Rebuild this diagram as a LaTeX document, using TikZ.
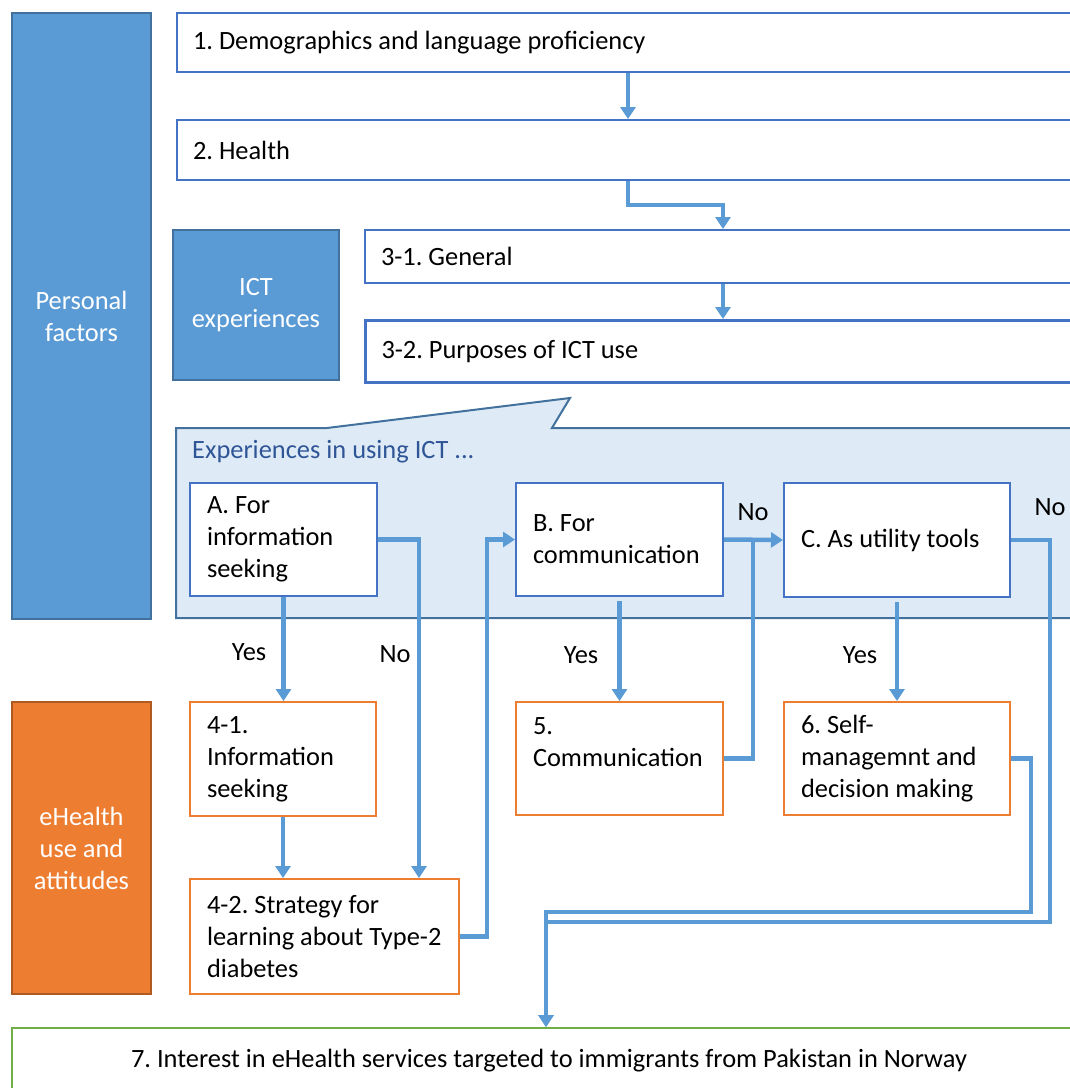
\documentclass[tikz,border=0pt]{standalone}
\usepackage{fontspec}
\setmainfont{Carlito}
\usetikzlibrary{arrows.meta}
\definecolor{boxblue}{HTML}{4472C4}
\definecolor{arrblue}{HTML}{5B9BD5}
\definecolor{sideblue}{HTML}{5B9BD5}
\definecolor{sideline}{HTML}{41719C}
\definecolor{callfill}{HTML}{DEEBF7}
\definecolor{calltext}{HTML}{2F5597}
\definecolor{orng}{HTML}{ED7D31}
\definecolor{orngline}{HTML}{AE5A21}
\definecolor{grn}{HTML}{70AD47}
\frenchspacing
\tikzset{
every node/.style={font=\fontsize{26.4}{32}\selectfont},
topbox/.style={draw=boxblue, line width=2pt, fill=white, anchor=north west, align=flush left, inner xsep=16pt, inner ysep=0pt, text width=872pt, minimum height=#1},
optbox/.style={draw=boxblue, line width=2pt, fill=white, anchor=north west, align=flush left, inner xsep=17pt, inner ysep=0pt},
usebox/.style={optbox, draw=orng},
side/.style={fill=sideblue, draw=sideline, line width=2pt, text=white, align=flush center, anchor=north west, inner sep=0pt},
arr/.style={arrblue, line width=4.5pt, -{Triangle[width=15pt,length=12pt]}},
lnk/.style={arrblue, line width=4.5pt}
}
\begin{document}
\begin{tikzpicture}[x=1pt,y=-1pt]
\useasboundingbox (0,0) rectangle (1070,1088);
\clip (0,0) rectangle (1070,1088);
\node[side, minimum width=139pt, minimum height=606pt] (pf) at (11,12) {Personal\\factors};
\node[side, fill=orng, draw=orngline, minimum width=139pt, minimum height=292pt] (eh) at (11,701) {eHealth\\use and\\attitudes};
\node[topbox=59pt] (q1) at (176,12) {1. Demographics and language proficiency};
\node[topbox=60pt] (q2) at (176,119) {2. Health};
\node[side, minimum width=166pt, minimum height=150pt] (ict) at (172,229) {ICT\\experiences};
\node[topbox=53pt, text width=684pt] (q31) at (364,229) {3-1. General};
\node[topbox=62pt, text width=684pt, line width=3pt] (q32) at (364,319) {3-2. Purposes of ICT use};
\fill[callfill, draw=sideline, line width=2pt] (176,428) -- (327,428) -- (570,398) -- (552,428) -- (1085,428) -- (1085,618) -- (176,618) -- cycle;
\node[anchor=west, text=calltext, inner sep=0pt] (exp) at (192,452) {Experiences in using ICT ...};
\node[optbox, text width=153pt, minimum height=113pt] (A) at (189,482) {A. For\\information\\seeking};
\node[optbox, text width=173pt, minimum height=113pt] (B) at (515,482) {B. For\\communication};
\node[optbox, text width=192pt, minimum height=114pt] (C) at (783,482) {C. As utility tools};
\node[usebox, text width=152pt, minimum height=114pt] (n41) at (189,701) {4-1.\\Information\\seeking};
\node[usebox, text width=235pt, minimum height=115pt] (n42) at (189,878) {4-2. Strategy for\\\mbox{learning about Type-2}\\diabetes};
\node[usebox, text width=173pt, minimum height=113pt] (n5) at (515,701) {5.\\Communication\\\mbox{}};
\node[usebox, text width=192pt, minimum height=113pt] (n6) at (783,701) {6. Self-\\managemnt and\\decision making};
\node[draw=grn, line width=2pt, fill=white, anchor=north west, inner sep=0pt, text width=1074pt, minimum height=66pt, align=flush center] (n7) at (11,1027) {7. Interest in eHealth services targeted to immigrants from Pakistan in Norway};
\coordinate (c1) at (628,0);
\coordinate (c2) at (723,205);
\coordinate (c3) at (419,0);
\coordinate (c4) at (487,0);
\coordinate (c5) at (753,0);
\coordinate (c6) at (1050,922);
\coordinate (c7) at (1031,912);
\coordinate (c8) at (546,0);
\draw[arr] (c1 |- q1.south) -- (c1 |- q2.north);
\draw[arr] (c1 |- q2.south) |- (c2) -- (c2 |- q31.north);
\draw[arr] (c2 |- q31.south) -- (c2 |- q32.north);
\draw[arr] (A.south) -- (A.south |- n41.north);
\draw[arr] (A.east) -| (c3 |- n42.north);
\draw[arr] (n41.south) -- (n41.south |- n42.north);
\draw[arr] (n42.east) -| (c4 |- B.west) -- (B.west);
\draw[arr, shorten <=4pt] (B.south) -- (n5.north);
\draw[arr] (B.east) -- (C.west);
\draw[lnk] (n5.east) -| (c5 |- C.west);
\draw[arr, shorten <=4pt] (C.south) -- (n6.north);
\draw[arr] (C.east) -| (c6) -| (c8 |- n7.north);
\draw[arr] (n6.east) -| (c7) -| (c8 |- n7.north);
\node (y1) at (249,652) {Yes};
\node (no1) at (395,654) {No};
\node (y2) at (581,655) {Yes};
\node (no2) at (753,512) {No};
\node (y3) at (860,655) {Yes};
\node (no3) at (1050,507) {No};
\end{tikzpicture}
\end{document}
